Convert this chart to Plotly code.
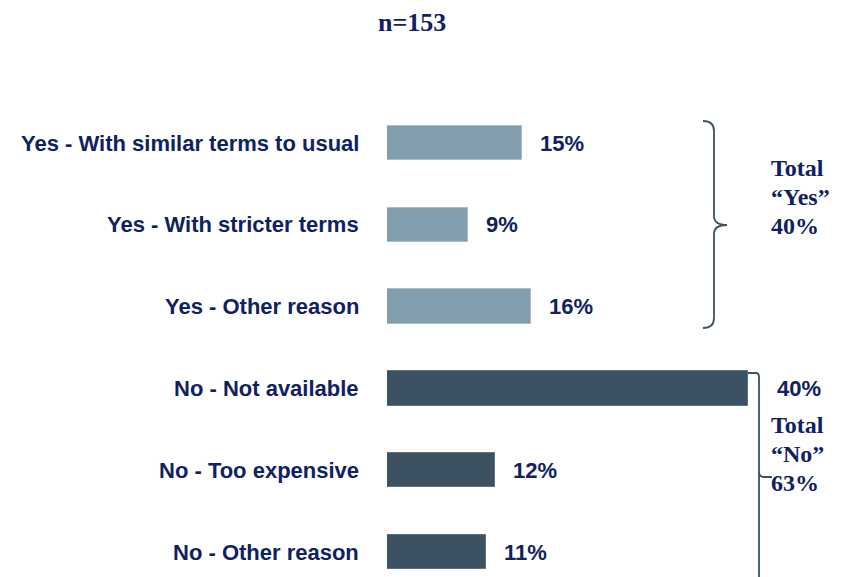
import plotly.graph_objects as go

# Survey answers (n=153), percent of respondents
categories = [
    "Yes - With similar terms to usual",
    "Yes - With stricter terms",
    "Yes - Other reason",
    "No - Not available",
    "No - Too expensive",
    "No - Other reason",
]
values = [15, 9, 16, 40, 12, 11]
groups = ["Yes", "Yes", "Yes", "No", "No", "No"]
title_text = "n=153"

W, H = 848, 577
NAVY = "#0f2163"
YES_COLOR = "#829dae"
NO_COLOR = "#3c5262"
BRACE_COLOR = "#3c5262"


def px(x):
    return x / W


def py(y):
    return 1 - y / H


# axis geometry: bar base at 387 px, 40 % reaches 748 px
x0_px = 387
unit_px = (748 - x0_px) / 40
row0_px, row_step = 143, 81.8
y_top = -row0_px / row_step
y_bot = (H - row0_px) / row_step

idx = list(range(len(categories)))
colors = [YES_COLOR if g == "Yes" else NO_COLOR for g in groups]
edge = ["#a9bccb" if g == "Yes" else "#5d7180" for g in groups]

fig = go.Figure()
fig.add_trace(go.Bar(
    x=values, y=idx, orientation="h", width=0.42,
    marker=dict(color=colors, line=dict(color=edge, width=1)),
    hoverinfo="skip", showlegend=False,
))

annotations = []
# category labels
for i, c in enumerate(categories):
    annotations.append(dict(
        x=px(361), xref="paper", y=i, yref="y", text=f"<b>{c}</b>", showarrow=False,
        xanchor="right", yanchor="middle",
        font=dict(family="Liberation Sans, Arial", size=22, color=NAVY),
    ))
# value labels
vmax = max(values)
for i, v in enumerate(values):
    annotations.append(dict(
        x=v, xref="x", y=i, yref="y", text=f"<b>{v}%</b>", showarrow=False,
        xanchor="left", yanchor="middle", xshift=27 if v == vmax else 16,
        font=dict(family="Liberation Sans, Arial", size=22, color=NAVY),
    ))

# group totals beside the braces
yes_total = sum(v for v, g in zip(values, groups) if g == "Yes")
no_total = sum(v for v, g in zip(values, groups) if g == "No")
for lines, ys in (
    (["Total", "\u201cYes\u201d", f"{yes_total}%"], [168, 197, 226]),
    (["Total", "\u201cNo\u201d", f"{no_total}%"], [425, 454, 483]),
):
    for t, yy in zip(lines, ys):
        annotations.append(dict(
            x=px(769), xref="paper", y=py(yy), yref="paper", text=f"<b>{t}</b>",
            showarrow=False, xanchor="left", yanchor="middle",
            font=dict(family="Liberation Serif, Times New Roman", size=24, color=NAVY),
        ))

# sample size heading
annotations.append(dict(
    x=px(412), xref="paper", y=py(22), yref="paper", text=f"<b>{title_text}</b>",
    showarrow=False, xanchor="center", yanchor="middle",
    font=dict(family="Liberation Serif, Times New Roman", size=26, color=NAVY),
))


def path(cmds):
    out = []
    for c in cmds:
        if isinstance(c, str):
            out.append(c)
        else:
            out.append(f"{px(c[0]):.5f},{py(c[1]):.5f}")
    return " ".join(out)


yes_brace = path([
    "M", (703, 121), "Q", (714, 121), (714, 131), "L", (714, 216),
    "Q", (714, 225), (727, 225), "Q", (714, 225), (714, 234),
    "L", (714, 318), "Q", (714, 328), (703, 328),
])
no_brace = path([
    "M", (748, 373), "L", (756, 373), "Q", (759, 373), (759, 377), "L", (759, 580),
    "M", (759, 472), "Q", (759, 477), (764, 477), "L", (772, 477),
])
shapes = [
    dict(type="path", xref="paper", yref="paper", path=p,
         line=dict(color=BRACE_COLOR, width=1.8))
    for p in (yes_brace, no_brace)
]

fig.update_layout(
    width=W, height=H, margin=dict(l=0, r=0, t=0, b=0),
    paper_bgcolor="white", plot_bgcolor="white",
    xaxis=dict(domain=[px(x0_px), 1], range=[0, (W - x0_px) / unit_px],
               visible=False, fixedrange=True),
    yaxis=dict(range=[y_bot, y_top], visible=False, fixedrange=True),
    annotations=annotations, shapes=shapes, bargap=0,
)

fig.write_html("out.html")
